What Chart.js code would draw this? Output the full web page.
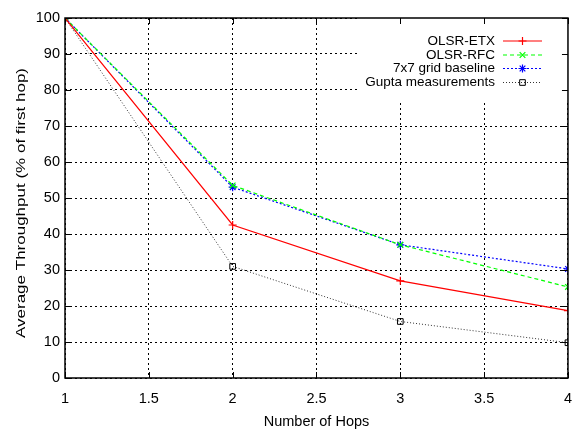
<!DOCTYPE html>
<html>
<head>
<meta charset="utf-8">
<script src="https://cdn.jsdelivr.net/npm/chart.js@4"></script>
<style>
  html, body { margin: 0; padding: 0; background: #fff; }
  #wrap { width: 584px; height: 431px; }
</style>
</head>
<body>
<div id="wrap"><canvas id="myChart" width="584" height="431"></canvas></div>
<script>
// hops on the x axis
var hops = [1, 2, 3, 4];
// throughput, % of first hop
var olsrEtx = [100, 42.5, 27.0, 18.7];
var olsrRfc = [100, 53.5, 37.0, 25.3];
var gridBaseline = [100, 53.0, 37.0, 30.3];
var gupta = [100, 31.0, 15.7, 9.8];

var seriesNames = ['OLSR-ETX', 'OLSR-RFC', '7x7 grid baseline', 'Gupta measurements'];
var xTicks = [1, 1.5, 2, 2.5, 3, 3.5, 4];
var yTicks = [0, 10, 20, 30, 40, 50, 60, 70, 80, 90, 100];
var yTitle = 'Average Throughput (% of first hop)';
var xTitle = 'Number of Hops';

var FONT = '"Liberation Sans", Arial, sans-serif';

function toPoints(ys) {
    return hops.map((h, i) => ({ x: h, y: ys[i] }));
}

// white box behind the key, so the grid does not run through it
var keyBox = {
    id: 'keyBox',
    beforeDatasetsDraw: function (chart) {
        var a = chart.chartArea;
        var ctx = chart.ctx;
        ctx.save();
        ctx.fillStyle = '#fff';
        ctx.fillRect(358, a.top, a.right - 358, 100 - a.top);
        ctx.restore();
    }
};

// y title, drawn by hand so it can be stretched along its length like the original
var yTitlePlugin = {
    id: 'yTitlePlugin',
    afterDraw: function (chart) {
        var ctx = chart.ctx;
        ctx.save();
        ctx.font = '13.5px ' + FONT;
        ctx.fillStyle = '#000';
        ctx.textAlign = 'center';
        ctx.textBaseline = 'middle';
        var w = ctx.measureText(yTitle).width;
        ctx.translate(21.5, 203);
        ctx.rotate(-Math.PI / 2);
        ctx.scale(270 / w, 1);
        ctx.fillText(yTitle, 0, 0);
        ctx.restore();
    }
};

// gnuplot style frame, inner tick marks and legend (text left of sample)
var gnuFrame = {
    id: 'gnuFrame',
    afterDatasetsDraw: function (chart) {
        var ctx = chart.ctx;
        var a = chart.chartArea;
        var xs = chart.scales.x, ys = chart.scales.y;
        ctx.save();
        ctx.strokeStyle = '#000';
        ctx.lineWidth = 1;
        ctx.setLineDash([]);
        ctx.beginPath();
        xTicks.forEach(t => {
            var px = Math.round(xs.getPixelForValue(t)) + 0.5;
            ctx.moveTo(px, a.bottom); ctx.lineTo(px, a.bottom - 6);
            ctx.moveTo(px, a.top); ctx.lineTo(px, a.top + 6);
        });
        yTicks.forEach(t => {
            var py = Math.round(ys.getPixelForValue(t)) + 0.5;
            ctx.moveTo(a.left, py); ctx.lineTo(a.left + 6, py);
            ctx.moveTo(a.right, py); ctx.lineTo(a.right - 6, py);
        });
        ctx.stroke();
        ctx.lineWidth = 1.5;
        ctx.strokeRect(a.left, a.top, a.right - a.left, a.bottom - a.top);

        // legend
        var rowY = [41, 55, 68.5, 82.5];
        ctx.font = '13.5px ' + FONT;
        ctx.textAlign = 'right';
        ctx.textBaseline = 'middle';
        chart.data.datasets.forEach((ds, i) => {
            var y = rowY[i];
            ctx.fillStyle = '#000';
            ctx.fillText(seriesNames[i], 495, y);
            ctx.strokeStyle = ds.borderColor;
            ctx.lineWidth = ds.borderWidth;
            ctx.setLineDash(ds.borderDash || []);
            ctx.beginPath();
            ctx.moveTo(503, y); ctx.lineTo(542, y);
            ctx.stroke();
            ctx.setLineDash([]);
            ctx.fillStyle = 'rgba(0,0,0,0)';
            ctx.lineWidth = ds.pointBorderWidth;
            Chart.helpers.drawPoint(ctx, {
                pointStyle: ds.pointStyle,
                radius: ds.pointRadius,
                borderWidth: ds.pointBorderWidth
            }, 522.5, y);
        });
        ctx.restore();
    }
};

var ctx = document.getElementById('myChart').getContext('2d');
var myChart = new Chart(ctx, {
    type: 'line',
    data: {
        datasets: [{
            label: seriesNames[0],
            data: toPoints(olsrEtx),
            borderColor: '#ff0000',
            backgroundColor: 'rgba(0,0,0,0)',
            borderWidth: 1.2,
            pointStyle: 'cross',
            pointRadius: 4,
            pointBorderWidth: 1.2
        }, {
            label: seriesNames[1],
            data: toPoints(olsrRfc),
            borderColor: '#00ff00',
            backgroundColor: 'rgba(0,0,0,0)',
            borderWidth: 1.2,
            borderDash: [4, 3],
            pointStyle: 'crossRot',
            pointRadius: 4,
            pointBorderWidth: 1.2
        }, {
            label: seriesNames[2],
            data: toPoints(gridBaseline),
            borderColor: '#0000ff',
            backgroundColor: 'rgba(0,0,0,0)',
            borderWidth: 1.2,
            borderDash: [2, 2],
            pointStyle: 'star',
            pointRadius: 4,
            pointBorderWidth: 1.2
        }, {
            label: seriesNames[3],
            data: toPoints(gupta),
            borderColor: '#000000',
            backgroundColor: 'rgba(0,0,0,0)',
            borderWidth: 0.8,
            borderDash: [1, 2],
            pointStyle: 'rect',
            pointRadius: 4,
            pointBorderWidth: 1
        }]
    },
    options: {
        responsive: false,
        animation: false,
        events: [],
        layout: { padding: { top: 18, right: 15, left: 0, bottom: 0 } },
        plugins: {
            legend: { display: false },
            tooltip: { enabled: false }
        },
        elements: { line: { tension: 0 } },
        scales: {
            x: {
                type: 'linear',
                min: 1,
                max: 4,
                afterBuildTicks: function (axis) {
                    axis.ticks = xTicks.map(v => ({ value: v }));
                },
                afterFit: function (axis) { axis.height = 53; },
                border: { display: false, dash: [2, 3] },
                grid: {
                    color: '#000',
                    lineWidth: 1,
                    drawTicks: false
                },
                ticks: {
                    color: '#000',
                    padding: 12,
                    font: { family: FONT, size: 14.5 },
                    maxRotation: 0,
                    callback: v => String(v)
                },
                title: {
                    display: true,
                    text: xTitle,
                    color: '#000',
                    font: { family: FONT, size: 14.5 },
                    padding: { top: 2, bottom: 0 }
                }
            },
            y: {
                min: 0,
                max: 100,
                afterBuildTicks: function (axis) {
                    axis.ticks = yTicks.map(v => ({ value: v }));
                },
                afterFit: function (axis) { axis.width = 65; },
                border: { display: false, dash: [2, 3] },
                grid: {
                    color: '#000',
                    lineWidth: 1,
                    drawTicks: false
                },
                ticks: {
                    color: '#000',
                    padding: 5,
                    font: { family: FONT, size: 14.5 },
                    callback: v => String(v)
                }
            }
        }
    },
    plugins: [keyBox, gnuFrame, yTitlePlugin]
});
</script>
</body>
</html>
